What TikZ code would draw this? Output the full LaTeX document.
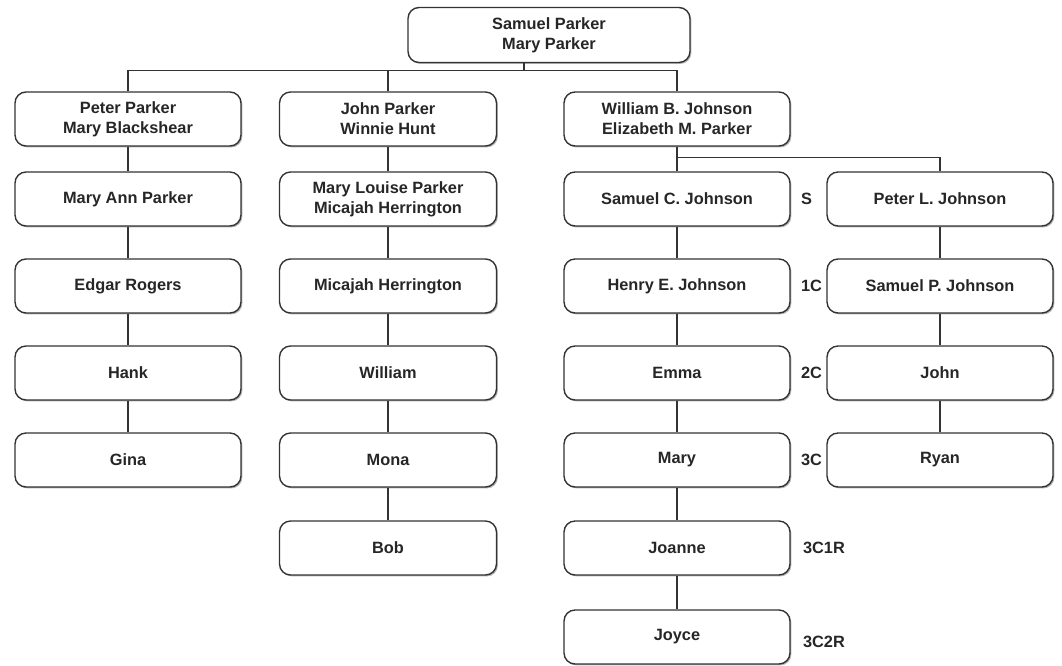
\documentclass[tikz,border=0pt]{standalone}
\usepackage{fontspec}
\setmainfont{Liberation Sans}
\usetikzlibrary{positioning,shadows}

\begin{document}
\begin{tikzpicture}[x=0.02cm, y=-0.02cm,
  every node/.style={font=\fontsize{9.3}{11.3}\selectfont\bfseries, text=black!85},
  person/.style={draw=black!80, line width=0.8pt, rounded corners=2.2mm, fill=white, minimum width=4.52cm, minimum height=1.08cm, align=center, drop shadow={shadow xshift=0.8pt, shadow yshift=-0.8pt, fill=black!50, opacity=0.6}},
  narrow/.style={person, minimum width=4.34cm},
  tag/.style={inner sep=0pt},
  link/.style={draw=black!80, line width=0.6pt}]
  \useasboundingbox (0,0) rectangle (1062,666);

  % founders
  \node[person, minimum width=5.64cm, minimum height=1.1cm] (top) at (549,35) {Samuel Parker\\Mary Parker};

  % children
  \node[person] (peter) at (128,119) {Peter Parker\\Mary Blackshear};
  \node[narrow] (john) at (388,119) {John Parker\\Winnie Hunt};
  \node[person] (william) at (677,119) {William B. Johnson\\Elizabeth M. Parker};

  % Peter's line
  \node[person] (maryann) at (128,199) {Mary Ann Parker};
  \node[person] (edgar) at (128,286) {Edgar Rogers};
  \node[person] (hank) at (128,373) {Hank};
  \node[person] (gina) at (128,460) {Gina};

  % John's line
  \node[narrow] (marylouise) at (388,199) {Mary Louise Parker\\Micajah Herrington};
  \node[narrow] (micajah) at (388,286) {Micajah Herrington};
  \node[narrow] (williamh) at (388,373) {William};
  \node[narrow] (mona) at (388,460) {Mona};
  \node[narrow] (bob) at (388,548) {Bob};

  % William's line
  \node[person] (samuelc) at (677,199) {Samuel C. Johnson};
  \node[person] (henry) at (677,286) {Henry E. Johnson};
  \node[person] (emma) at (677,373) {Emma};
  \node[person] (mary) at (677,460) {Mary};
  \node[person] (joanne) at (677,548) {Joanne};
  \node[person] (joyce) at (677,637) {Joyce};

  \node[person] (peterl) at (940,199) {Peter L. Johnson};
  \node[person] (samuelp) at (940,286) {Samuel P. Johnson};
  \node[person] (johnj) at (940,373) {John};
  \node[person] (ryan) at (940,460) {Ryan};

  % cousin marks
  \node[tag, right=2mm of samuelc] (ts) {S};
  \node[tag, right=2mm of henry] (t1c) {1C};
  \node[tag, right=2mm of emma] (t2c) {2C};
  \node[tag, right=2mm of mary] (t3c) {3C};
  \node[tag, right=2.4mm of joanne] (t3c1r) {3C1R};
  \node[tag, right=2.4mm of joyce, yshift=-1mm] (t3c2r) {3C2R};

  % connectors
  \draw[link] ([xshift=-5mm]top.south) -- ++(0,7) coordinate (bus);
  \draw[link] (peter.north) |- (bus) -| (william.north);
  \draw[link] (john.north) -- (john.north |- bus);
  \path (william.south) -- (samuelc.north) coordinate[pos=0.42] (wbus);
  \draw[link] (william.south) -- (samuelc.north);
  \draw[link] (wbus) -| (peterl.north);
  \foreach \a/\b in {peter/maryann, maryann/edgar, edgar/hank, hank/gina,
      john/marylouise, marylouise/micajah, micajah/williamh, williamh/mona, mona/bob,
      samuelc/henry, henry/emma, emma/mary, mary/joanne, joanne/joyce,
      peterl/samuelp, samuelp/johnj, johnj/ryan}
    \draw[link] (\a.south) -- (\b.north);
\end{tikzpicture}
\end{document}
